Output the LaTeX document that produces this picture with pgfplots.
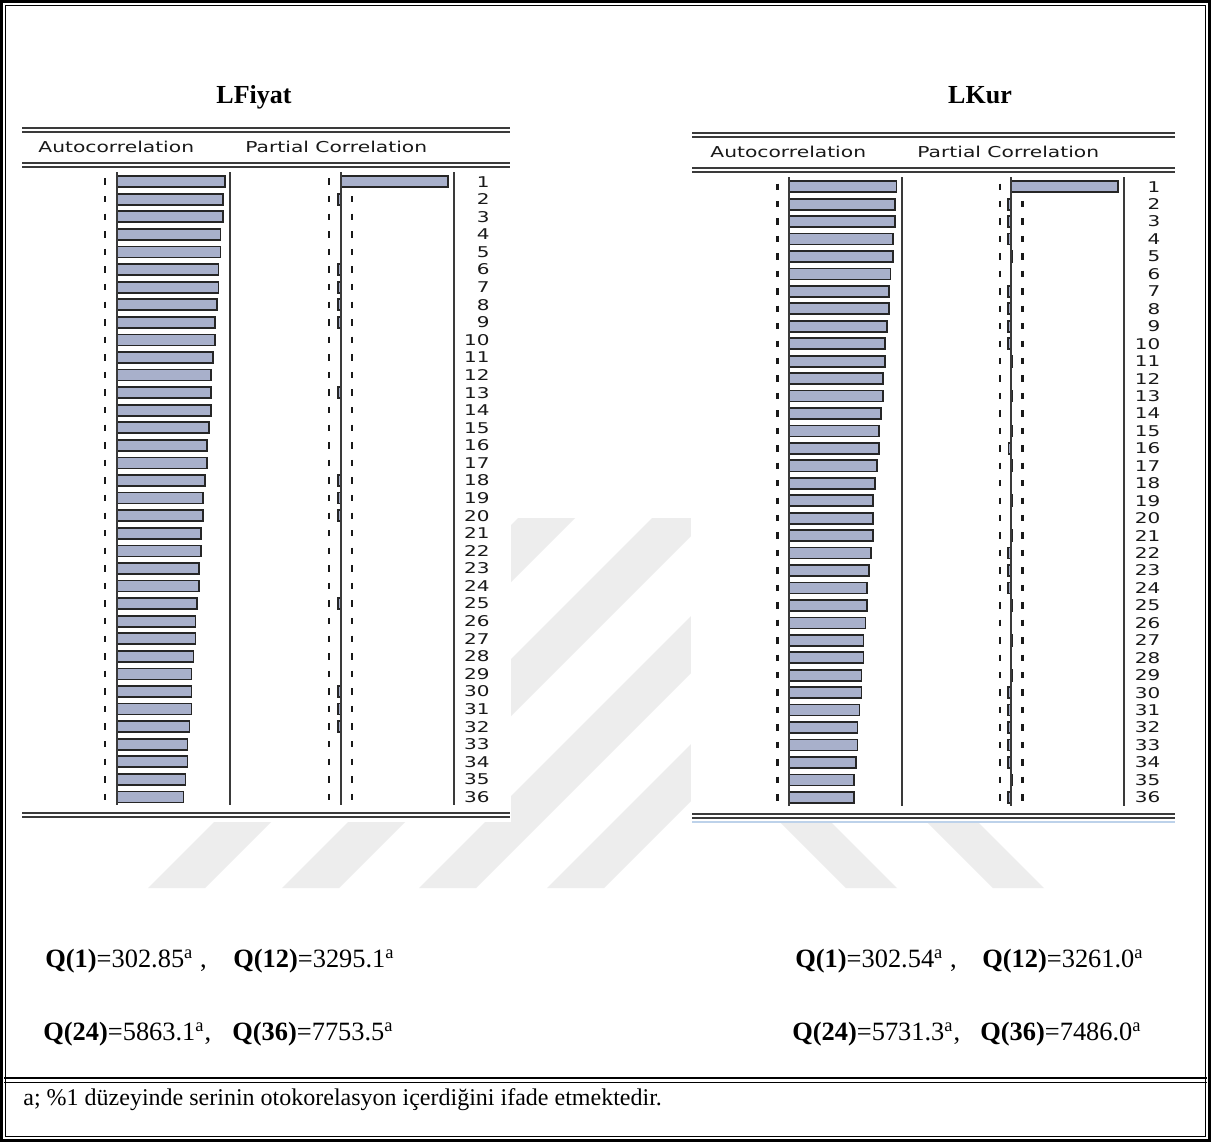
\documentclass[border=0pt]{standalone}
\usepackage{pgfplots}
\usepackage{pgfplotstable}
\pgfplotsset{compat=1.18}
\usepackage{fontspec}
\setmainfont{Liberation Serif}
\newfontfamily\ev[FakeStretch=1.35]{DejaVu Sans}
\definecolor{barfill}{HTML}{A8B0CB}
\definecolor{rule}{HTML}{3A3A3A}
\definecolor{paleblue}{HTML}{BDD2EA}
\definecolor{emblem}{HTML}{EDEDED}

% lag, autocorrelation, partial autocorrelation
\pgfplotstableread{
lag acf pacf
1 0.953 0.950
2 0.935 -0.022
3 0.935 0.004
4 0.917 0.004
5 0.917 0.003
6 0.899 -0.025
7 0.899 -0.025
8 0.882 -0.025
9 0.867 -0.025
10 0.867 0.004
11 0.849 0.003
12 0.831 0.004
13 0.831 -0.022
14 0.831 0.004
15 0.814 0.003
16 0.796 0.004
17 0.796 0.003
18 0.781 -0.025
19 0.763 -0.025
20 0.763 -0.025
21 0.746 0.004
22 0.746 0.003
23 0.728 0.004
24 0.728 0.003
25 0.710 -0.022
26 0.695 0.004
27 0.695 0.003
28 0.678 0.004
29 0.660 0.003
30 0.660 -0.025
31 0.660 -0.025
32 0.642 -0.025
33 0.624 0.004
34 0.624 0.003
35 0.607 0.004
36 0.589 0.003
}\fiyat

\pgfplotstableread{
lag acf pacf
1 0.952 0.950
2 0.937 -0.028
3 0.937 -0.028
4 0.919 -0.028
5 0.919 0.004
6 0.901 0.003
7 0.887 -0.028
8 0.887 -0.028
9 0.869 -0.028
10 0.851 -0.028
11 0.851 0.004
12 0.833 0.003
13 0.833 0.004
14 0.815 0.003
15 0.797 0.004
16 0.797 -0.025
17 0.779 0.004
18 0.761 0.003
19 0.743 0.004
20 0.743 0.003
21 0.743 0.004
22 0.725 -0.028
23 0.710 -0.028
24 0.693 -0.028
25 0.693 0.004
26 0.678 0.003
27 0.660 0.004
28 0.660 0.003
29 0.642 0.004
30 0.642 -0.028
31 0.624 -0.028
32 0.606 -0.028
33 0.606 -0.028
34 0.591 -0.028
35 0.573 0.004
36 0.573 -0.028
}\kur

\pgfplotsset{
  corrcol/.style={
    anchor=north west, scale only axis, clip=false,
    xmin=-0.15, xmax=1, y dir=reverse,
    hide axis,
  },
  band/.style={only marks, mark=|, mark size=1.6pt,
    mark options={line width=1.1pt, draw=black!90}},
  corrbar/.style={xbar, bar width=5.5pt, fill=barfill, draw=black!85,
    line width=0.85pt},
  lagcol/.style={
    anchor=north west, scale only axis, clip=false,
    xmin=-0.15, xmax=1, y dir=reverse,
    axis x line=none, axis y line=right,
    y axis line style={draw=none}, major tick length=0pt,
    ytick={1,...,36},
    /pgf/number format/assume math mode=true,
    yticklabel style={anchor=east, inner sep=0pt, text=black!90,
      font=\ev\fontsize{7.4}{8}\selectfont},
  },
}
\tikzset{
  hdr/.style={anchor=west, inner sep=0pt, text=black!90,
    font=\ev\fontsize{7.5}{8}\selectfont},
}

\begin{document}
\begin{tikzpicture}[x=0.5pt, y=-0.5pt]
\useasboundingbox (0,0) rectangle (1211,1142);
\fill[white] (0,0) rectangle (1211,1142);

% faint background emblem
\foreach \b in {148,282,419,547}
  \fill[emblem] (\b,888) -- (\b+57,888) -- (\b+427,518) -- (\b+370,518) -- cycle;
\foreach \b in {846,993}
  \fill[emblem] (\b,888) -- (\b+51,888) -- (\b+51-128,760) -- (\b-128,760) -- cycle;
% white backgrounds of the two correlogram tables
\fill[white] (20,120) rectangle (511,822);
\fill[white] (691,125) rectangle (1177,823);

% page frame (double rule) and footnote separator
\draw[line width=1.6pt] (1.6,1.6) rectangle (1209.4,1140.4);
\draw[line width=0.5pt] (5.8,5.8) rectangle (1205.2,1136.2);
\draw[line width=1pt] (4,1078) -- (1207,1078);
\draw[line width=0.5pt] (4,1082.5) -- (1207,1082.5);

% series titles
\node[font=\bfseries\fontsize{13}{15}\selectfont, anchor=base] at (254,103) {LFiyat};
\node[font=\bfseries\fontsize{13}{15}\selectfont, anchor=base] at (980,103) {LKur};

% ---------- LFiyat correlogram ----------
\foreach \yy in {128,132,163,167,813,817}
  \draw[rule, line width=0.9pt] (22,\yy) -- (510,\yy);
\node[hdr] at (38,147) {Autocorrelation};
\node[hdr] at (245,147) {Partial Correlation};

\begin{axis}[corrcol, at={(50.025pt,-86pt)}, width=64.975pt, height=316.5pt,
  ymin=0.45, ymax=36.457]
  \addplot[band] table[x expr=-0.105, y=lag]{\fiyat};
  \addplot[corrbar] table[x=acf, y=lag]{\fiyat};
  \draw[rule, line width=1pt] (axis cs:0,0.45) -- (axis cs:0,36.457);
  \draw[rule, line width=1pt] (axis cs:1,0.45) -- (axis cs:1,36.457);
\end{axis}

\begin{axis}[lagcol, at={(161.775pt,-86pt)}, width=64.975pt, height=316.5pt,
  ymin=0.45, ymax=36.457, yticklabel style={xshift=18.25pt}]
  \addplot[band] table[x expr=-0.103, y=lag]{\fiyat};
  \addplot[band, skip coords between index={0}{1}] table[x expr=0.103, y=lag]{\fiyat};
  \addplot[corrbar] table[x=pacf, y=lag]{\fiyat};
  \draw[rule, line width=1pt] (axis cs:0,0.45) -- (axis cs:0,36.457);
  \draw[rule, line width=1pt] (axis cs:1,0.45) -- (axis cs:1,36.457);
\end{axis}

% ---------- LKur correlogram ----------
\foreach \yy in {133,137,168,172,814,818}
  \draw[rule, line width=0.9pt] (692,\yy) -- (1175,\yy);
\draw[paleblue, line width=0.8pt] (692,822) -- (1175,822);
\node[hdr] at (710,152) {Autocorrelation};
\node[hdr] at (917,152) {Partial Correlation};

\begin{axis}[corrcol, at={(386.2pt,-88.5pt)}, width=64.6875pt, height=314.5pt,
  ymin=0.444, ymax=36.499]
  \addplot[band] table[x expr=-0.105, y=lag]{\kur};
  \addplot[corrbar] table[x=acf, y=lag]{\kur};
  \draw[rule, line width=1pt] (axis cs:0,0.444) -- (axis cs:0,36.499);
  \draw[rule, line width=1pt] (axis cs:1,0.444) -- (axis cs:1,36.499);
\end{axis}

\begin{axis}[lagcol, at={(497.2pt,-88.5pt)}, width=64.6875pt, height=314.5pt,
  ymin=0.444, ymax=36.499, yticklabel style={xshift=18.5pt}]
  \addplot[band] table[x expr=-0.1, y=lag]{\kur};
  \addplot[band, skip coords between index={0}{1}] table[x expr=0.1, y=lag]{\kur};
  \addplot[corrbar] table[x=pacf, y=lag]{\kur};
  \draw[rule, line width=1pt] (axis cs:0,0.444) -- (axis cs:0,36.499);
  \draw[rule, line width=1pt] (axis cs:1,0.444) -- (axis cs:1,36.499);
\end{axis}

% Ljung-Box statistics
\begin{scope}[every node/.style={anchor=base west, inner sep=0pt, font=\fontsize{13.2}{15}\selectfont}]
\node at (45,967)  {\textbf{Q(1)}=302.85\textsuperscript{a} ,};
\node at (233,967) {\textbf{Q(12)}=3295.1\textsuperscript{a}};
\node at (43,1040) {\textbf{Q(24)}=5863.1\textsuperscript{a},};
\node at (232,1040) {\textbf{Q(36)}=7753.5\textsuperscript{a}};
\node at (795,967) {\textbf{Q(1)}=302.54\textsuperscript{a} ,};
\node at (982,967) {\textbf{Q(12)}=3261.0\textsuperscript{a}};
\node at (792,1040) {\textbf{Q(24)}=5731.3\textsuperscript{a},};
\node at (980,1040) {\textbf{Q(36)}=7486.0\textsuperscript{a}};
\end{scope}

\node[anchor=base west, inner sep=0pt, font=\fontsize{12}{14}\selectfont] at (23,1105)
  {a; \%1 düzeyinde serinin otokorelasyon içerdiğini ifade etmektedir.};
\end{tikzpicture}
\end{document}
